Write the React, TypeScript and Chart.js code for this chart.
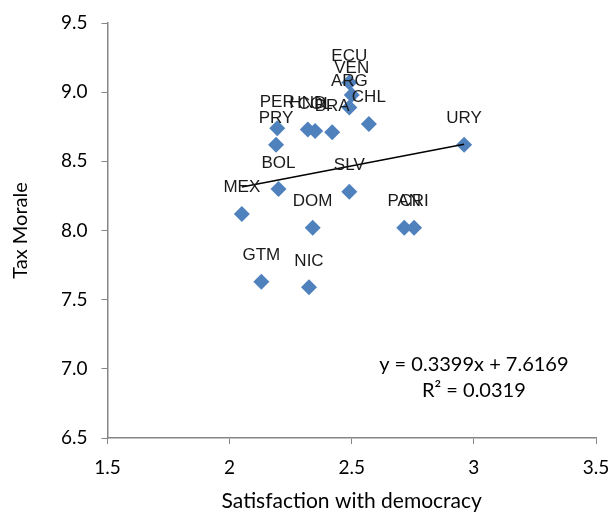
import React, { useEffect, useRef } from "react";
import { Chart, registerables } from "chart.js";

Chart.register(...registerables);

const countries = ["ECU", "VEN", "ARG", "CHL", "PER", "HND", "COL", "BRA", "PRY", "URY", "BOL", "SLV", "MEX", "DOM", "PAN", "CRI", "GTM", "NIC"];
const satisfaction = [2.49, 2.5, 2.49, 2.57, 2.195, 2.32, 2.35, 2.42, 2.19, 2.96, 2.2, 2.49, 2.05, 2.34, 2.715, 2.755, 2.13, 2.325];
const taxMorale = [9.07, 8.98, 8.89, 8.77, 8.74, 8.73, 8.72, 8.71, 8.62, 8.62, 8.3, 8.28, 8.12, 8.02, 8.02, 8.02, 7.63, 7.59];

const trendSlope = 0.3399;
const trendIntercept = 7.6169;
const equationText = "y = 0.3399x + 7.6169";
const r2Text = "R² = 0.0319";

const xTitle = "Satisfaction with democracy";
const yTitle = "Tax Morale";

export default function App() {
  const ref = useRef<HTMLCanvasElement | null>(null);

  useEffect(() => {
    document.body.style.margin = "0";
    const canvas = ref.current!;
    const points = satisfaction.map((x, i) => ({ x, y: taxMorale[i] }));
    const xMin = Math.min(...satisfaction);
    const xMax = Math.max(...satisfaction);
    const trend = [
      { x: xMin, y: trendSlope * xMin + trendIntercept },
      { x: xMax, y: trendSlope * xMax + trendIntercept },
    ];

    const labelPlugin = {
      id: "labels",
      afterDatasetsDraw(chart: any) {
        const ctx = chart.ctx;
        const meta = chart.getDatasetMeta(1);
        ctx.save();
        ctx.font = "17px 'Liberation Sans', Arial, sans-serif";
        ctx.fillStyle = "#1a1a1a";
        ctx.textAlign = "center";
        ctx.textBaseline = "alphabetic";
        meta.data.forEach((el: any, i: number) => {
          ctx.fillText(countries[i], el.x, el.y - 21.5);
        });
        const xs = chart.scales.x;
        const ys = chart.scales.y;
        ctx.font = "20px Lato, sans-serif";
        ctx.textBaseline = "middle";
        ctx.fillStyle = "#000";
        ctx.fillText(equationText, xs.getPixelForValue(3.0), ys.getPixelForValue(7.03));
        ctx.fillText(r2Text, xs.getPixelForValue(3.0), ys.getPixelForValue(6.84));
        ctx.restore();
      },
    };

    const chart = new Chart(canvas, {
      type: "scatter",
      data: {
        datasets: [
          {
            type: "line",
            data: trend,
            borderColor: "#000",
            borderWidth: 1.5,
            pointRadius: 0,
            fill: false,
          } as any,
          {
            data: points,
            backgroundColor: "#4F81BD",
            borderWidth: 0,
            pointStyle: "rectRot",
            pointRadius: 8,
          },
        ],
      },
      options: {
        animation: false,
        responsive: false,
        layout: { padding: { left: 0, top: 23, right: 15, bottom: 0 } },
        plugins: { legend: { display: false }, tooltip: { enabled: false } },
        scales: {
          x: {
            type: "linear",
            min: 1.5,
            max: 3.5,
            ticks: { stepSize: 0.5, color: "#000", padding: 12, font: { family: "Lato", size: 19 }, callback: (v: any) => String(Number(v)) },
            grid: { drawOnChartArea: false, drawTicks: true, tickLength: 6, color: "#868686" },
            border: { color: "#868686", width: 1.5 },
            title: { display: true, text: xTitle, color: "#000", font: { family: "Lato", size: 21 }, padding: { top: 0, bottom: 0 } },
            afterFit(axis: any) { axis.height = 76; axis.paddingLeft = 0; axis.paddingRight = 0; },
          },
          y: {
            type: "linear",
            min: 6.5,
            max: 9.5,
            ticks: { stepSize: 0.5, color: "#000", padding: 14, font: { family: "Lato", size: 19 }, callback: (v: any) => Number(v).toFixed(1) },
            grid: { drawOnChartArea: false, drawTicks: true, tickLength: 6, color: "#868686" },
            border: { color: "#868686", width: 1.5 },
            title: { display: true, text: yTitle, color: "#000", font: { family: "Lato", size: 20 }, padding: { top: 9, bottom: 0 } },
            afterFit(axis: any) { axis.width = 107.5; axis.paddingTop = 0; axis.paddingBottom = 0; },
          },
        },
      },
      plugins: [labelPlugin],
    });
    return () => chart.destroy();
  }, []);

  return <canvas ref={ref} width={611} height={514} style={{ display: "block" }} />;
}
